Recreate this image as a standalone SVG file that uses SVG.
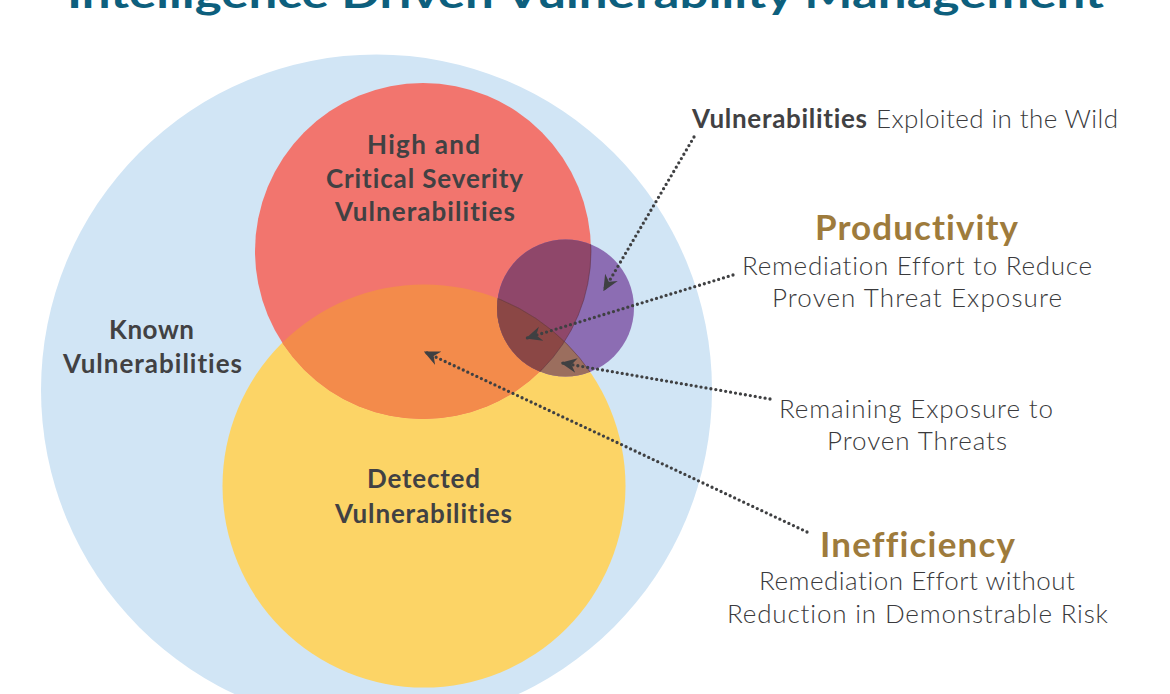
<svg xmlns="http://www.w3.org/2000/svg" width="1170" height="694" viewBox="0 0 1170 694">
  <defs>
    <clipPath id="clipRed"><circle cx="423" cy="251" r="168"/></clipPath>
    <clipPath id="clipYellow"><circle cx="424" cy="486" r="201.5"/></clipPath>
    <clipPath id="clipPurple"><circle cx="565.5" cy="308" r="68.5"/></clipPath>
    <marker id="dart" viewBox="0 0 12 12" refX="11" refY="6" markerUnits="userSpaceOnUse" markerWidth="16" markerHeight="16" orient="auto">
      <path d="M0,0.5 L12,6 L0,11.5 L3.8,6 Z" fill="#3f4042"/>
    </marker>
    <style>
      text { font-variant-ligatures: none; font-feature-settings: "liga" 0, "dlig" 0; }
      .lbl { font-family: Lato, "Open Sans", "Liberation Sans", sans-serif; font-weight: 700; font-size: 26px; fill: #414143; text-anchor: middle; }
      .note { font-family: Lato, "Open Sans", "Liberation Sans", sans-serif; font-weight: 300; font-size: 26px; fill: #3a3a3c; text-anchor: middle; }
      .head { font-family: Lato, "Open Sans", "Liberation Sans", sans-serif; font-weight: 700; font-size: 35px; fill: #9e7b3c; text-anchor: middle; }
      .title { font-family: Lato, "Open Sans", "Liberation Sans", sans-serif; font-weight: 700; font-size: 40px; fill: #0d5f7d; text-anchor: middle; }
      .conn { fill: none; stroke: #3f4042; stroke-width: 3.3; stroke-linecap: round; stroke-dasharray: 0 5; marker-end: url(#dart); }
    </style>
  </defs>
  <rect width="1170" height="694" fill="#ffffff"/>

  <text class="title" x="585.5" y="7.5" textLength="1037" lengthAdjust="spacingAndGlyphs">Intelligence Driven Vulnerability Management</text>

  <g id="node-known">
    <circle cx="376.5" cy="390" r="335.5" fill="#d1e5f5"/>
    <text class="lbl" x="151.5" y="339" textLength="85">Known</text>
    <text class="lbl" x="152.5" y="373" textLength="179">Vulnerabilities</text>
  </g>

  <g id="node-detected">
    <circle cx="424" cy="486" r="201.5" fill="#fcd466"/>
  </g>

  <g id="node-high">
    <circle cx="423" cy="251" r="168" fill="#f2756e"/>
    <g clip-path="url(#clipRed)">
      <circle cx="424" cy="486" r="201.5" fill="#f38b4b"/>
    </g>
    <text class="lbl" x="423.5" y="154" textLength="113">High and</text>
    <text class="lbl" x="424.5" y="188" textLength="197">Critical Severity</text>
    <text class="lbl" x="425" y="221" textLength="180">Vulnerabilities</text>
  </g>

  <g id="node-detected-label">
    <text class="lbl" x="423.5" y="488" textLength="113">Detected</text>
    <text class="lbl" x="423.5" y="523" textLength="177">Vulnerabilities</text>
  </g>

  <g id="node-exploited-circle">
    <circle cx="565.5" cy="308" r="68.5" fill="#8c6db3"/>
    <g clip-path="url(#clipPurple)">
      <circle cx="423" cy="251" r="168" fill="#8f476a"/>
      <circle cx="424" cy="486" r="201.5" fill="#9b6e5e"/>
      <g clip-path="url(#clipRed)">
        <circle cx="424" cy="486" r="201.5" fill="#8b4745"/>
      </g>
      <circle cx="423" cy="251" r="168" fill="none" stroke="#5a3040" stroke-width="1" stroke-opacity="0.5"/>
      <circle cx="424" cy="486" r="201.5" fill="none" stroke="#5a3040" stroke-width="1" stroke-opacity="0.5"/>
    </g>
  </g>

  <g id="connectors">
    <path class="conn" d="M694,137 L604,290"/>
    <path class="conn" d="M733,275 L527,338"/>
    <path class="conn" d="M770,399 L562,363"/>
    <path class="conn" d="M807,532 L425,352"/>
  </g>

  <g id="node-exploited">
    <text x="692" y="128" textLength="175" style="font-family: Lato, 'Open Sans', 'Liberation Sans', sans-serif; font-size: 26px; font-weight: 700; fill: #414143;">Vulnerabilities</text>
    <text x="876" y="128" textLength="242" style="font-family: Lato, 'Open Sans', 'Liberation Sans', sans-serif; font-size: 26px; font-weight: 300; fill: #3a3a3c;">Exploited in the Wild</text>
  </g>

  <g id="node-productivity">
    <text class="head" x="916.5" y="240" textLength="203">Productivity</text>
    <text class="note" x="917" y="275" textLength="350">Remediation Effort to Reduce</text>
    <text class="note" x="917" y="307" textLength="290">Proven Threat Exposure</text>
  </g>

  <g id="node-remaining">
    <text class="note" x="916" y="418" textLength="274">Remaining Exposure to</text>
    <text class="note" x="917" y="450" textLength="180">Proven Threats</text>
  </g>

  <g id="node-inefficiency">
    <text class="head" x="917.5" y="557" textLength="195">Inefficiency</text>
    <text class="note" x="917" y="590" textLength="316">Remediation Effort without</text>
    <text class="note" x="917.5" y="623" textLength="381">Reduction in Demonstrable Risk</text>
  </g>
</svg>
